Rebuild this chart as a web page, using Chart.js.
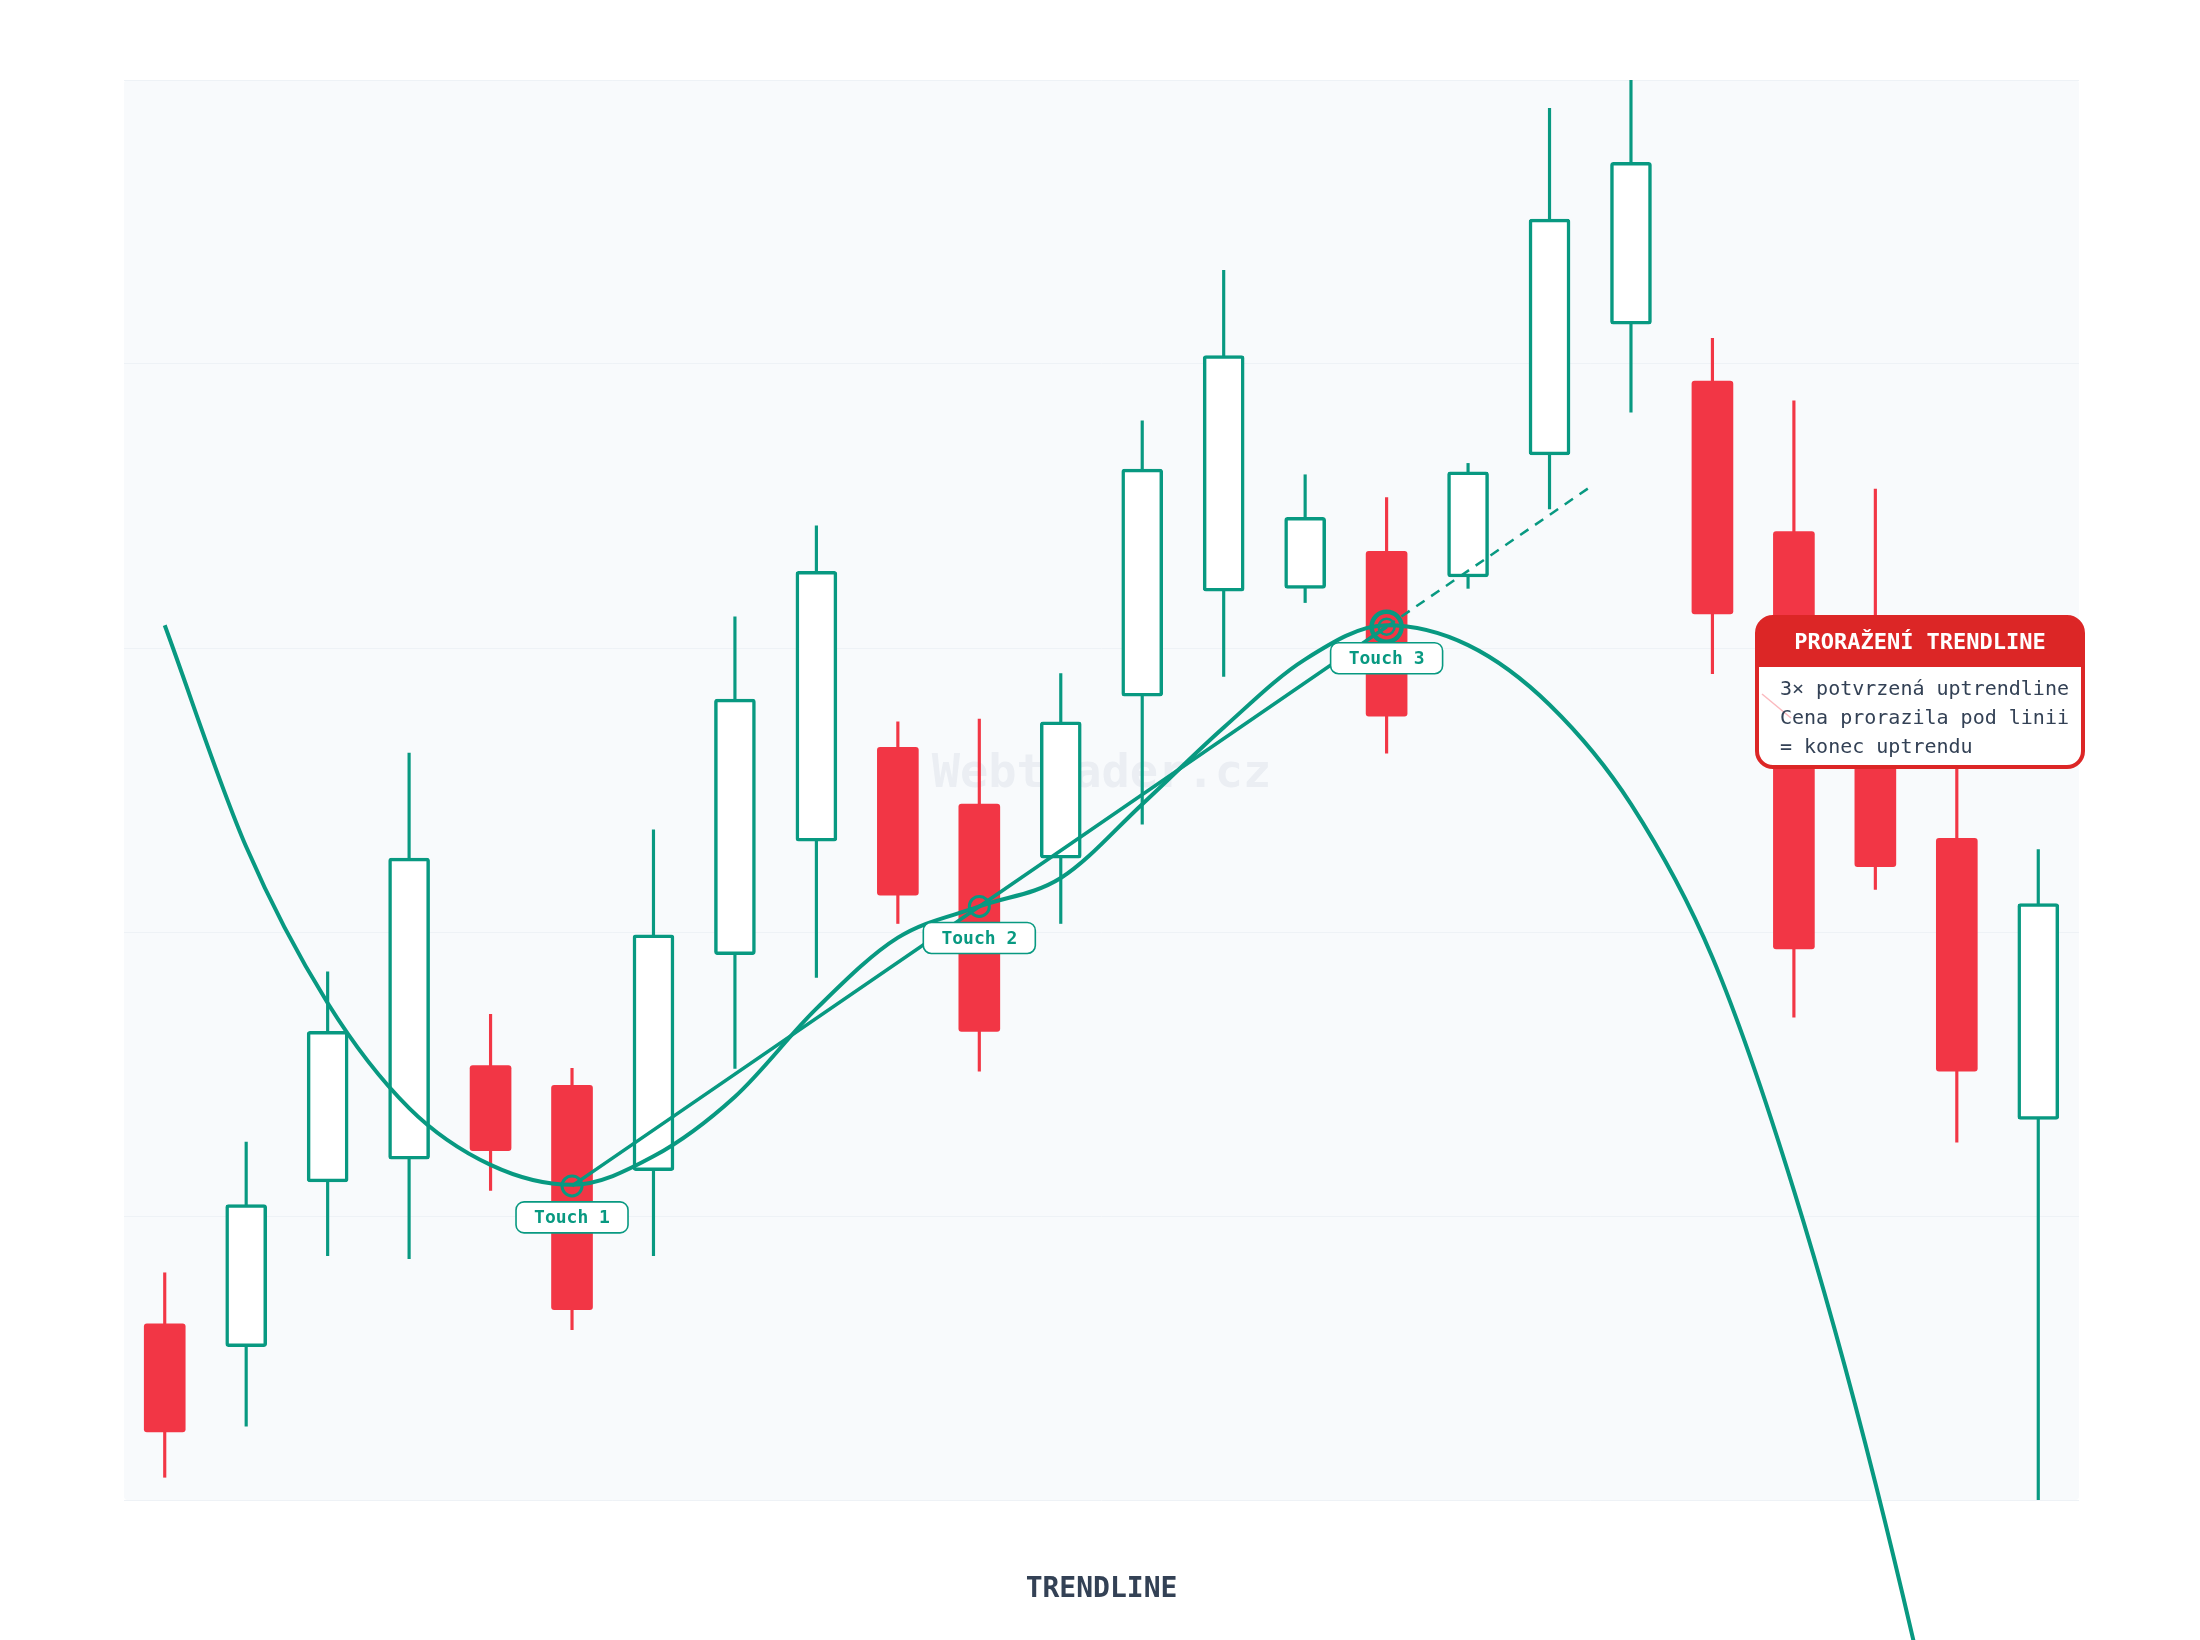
<!DOCTYPE html>
<html>
<head>
<meta charset="utf-8">
<title>Trendline</title>
<script src="https://cdn.jsdelivr.net/npm/chart.js@4.4.1/dist/chart.umd.min.js"></script>
<style>
    html, body { margin: 0; padding: 0; background: #ffffff; }
    #wrap { width: 2200px; height: 1640px; position: relative; }
</style>
</head>
<body>
<div id="wrap"><canvas id="chart"></canvas></div>
<script>
// --- Daten ---

const labels = ["1", "2", "3", "4", "5", "6", "7", "8", "9", "10", "11", "12",
                "13", "14", "15", "16", "17", "18", "19", "20", "21", "22", "23", "24"];

const opens  = [106.2, 105.4, 111.2, 112.0, 115.3, 114.6, 111.6, 119.2, 123.2, 126.5, 124.5, 122.6,
                128.3, 132.0, 132.1, 133.4, 132.5, 136.8, 141.4, 139.4, 134.1, 129.5, 123.3, 113.4];
const closes = [102.4, 110.4, 116.5, 122.6, 112.3, 106.7, 119.9, 128.2, 132.7, 121.3, 116.5, 127.4,
                136.3, 140.3, 134.6, 127.6, 136.2, 145.1, 147.1, 131.2, 119.4, 122.3, 115.1, 121.0];
const highs  = [108.0, 112.6, 118.6, 126.3, 117.1, 115.2, 123.6, 131.1, 134.3, 127.4, 127.5, 129.1,
                138.0, 143.3, 136.1, 135.3, 136.5, 149.0, 151.5, 140.9, 138.7, 135.6, 128.0, 122.9];
const lows   = [100.8, 102.6, 108.6, 108.5, 110.9, 106.0, 108.6, 115.2, 118.4, 120.3, 115.1, 120.3,
                123.8, 129.0, 131.6, 126.3, 132.1, 134.9, 138.3, 129.1, 117.0, 121.5, 112.6, 98.0];

const curveValues = [130.8, 123.0, 117.5, 113.8, 111.8, 111.1, 112.1, 114.2, 117.3, 119.8, 120.9, 121.9,
                     124.5, 127.2, 129.6, 130.8, 130.1, 128.0, 124.5, 119.1, 110.9, 100.6, 88.2, 73.9];

// Beruehrungspunkte der Trendlinie
const touchIndex  = [5, 10, 15];
const touchValues = [111.06, 120.9, 130.75];
const touchLabels = ["Touch 1", "Touch 2", "Touch 3"];

// gestrichelte Verlaengerung
const extIndex  = [15, 17.5];
const extValues = [130.75, 135.67];

const yTicks = [100, 110, 120, 130, 140, 150];

const boxTitle = "PRORAŽENÍ TRENDLINE";
const boxLines = ["3× potvrzená uptrendline", "Cena prorazila pod linii", "= konec uptrendu"];
const watermark = "Webtrader.cz";
const chartTitle = "TRENDLINE";

// --- Stil ---

const GREEN = "#089981";
const RED = "#f23645";
const BOX_RED = "#dc2626";
const MONO = "'DejaVu Sans Mono', monospace";

const isBull = opens.map((o, i) => closes[i] >= o);

// --- Hilfsfunktionen ---

function roundRect(ctx, x, y, w, h, r) {
    ctx.beginPath();
    ctx.moveTo(x + r, y);
    ctx.lineTo(x + w - r, y);
    ctx.arcTo(x + w, y, x + w, y + r, r);
    ctx.lineTo(x + w, y + h - r);
    ctx.arcTo(x + w, y + h, x + w - r, y + h, r);
    ctx.lineTo(x + r, y + h);
    ctx.arcTo(x, y + h, x, y + h - r, r);
    ctx.lineTo(x, y + r);
    ctx.arcTo(x, y, x + r, y, r);
    ctx.closePath();
}

const backgroundPlugin = {
    id: "background",
    beforeDraw(chart) {
        const { ctx, chartArea: a } = chart;
        ctx.save();
        ctx.fillStyle = "#ffffff";
        ctx.fillRect(0, 0, chart.width, chart.height);
        ctx.fillStyle = "#f8fafc";
        roundRect(ctx, a.left, a.top, a.right - a.left, a.bottom - a.top, 4);
        ctx.fill();
        ctx.restore();
    },
    beforeDatasetsDraw(chart) {
        const { ctx, chartArea: a } = chart;
        ctx.save();
        ctx.font = "bold 47px " + MONO;
        ctx.fillStyle = "rgba(148, 163, 184, 0.13)";
        ctx.textAlign = "center";
        ctx.textBaseline = "middle";
        ctx.fillText(watermark, (a.left + a.right) / 2, a.top + (a.bottom - a.top) * 0.489);
        ctx.restore();
    }
};

const annotationPlugin = {
    id: "annotations",
    afterDatasetsDraw(chart) {
        const { ctx, chartArea: a } = chart;
        const xs = chart.scales.xl;
        const ys = chart.scales.y;
        ctx.save();

        // innerer Ring am dritten Punkt
        const p3x = xs.getPixelForValue(touchIndex[2]);
        const p3y = ys.getPixelForValue(touchValues[2]);
        ctx.strokeStyle = GREEN;
        ctx.lineWidth = 2.5;
        ctx.beginPath();
        ctx.arc(p3x, p3y, 8, 0, Math.PI * 2);
        ctx.stroke();

        // Touch-Labels
        ctx.font = "bold 18px " + MONO;
        ctx.textAlign = "center";
        ctx.textBaseline = "middle";
        touchIndex.forEach((idx, i) => {
            const px = xs.getPixelForValue(idx);
            const py = ys.getPixelForValue(touchValues[i]);
            const w = 112, h = 31, top = py + 16;
            roundRect(ctx, px - w / 2, top, w, h, 8);
            ctx.fillStyle = "#ffffff";
            ctx.fill();
            ctx.lineWidth = 1.6;
            ctx.strokeStyle = GREEN;
            ctx.stroke();
            ctx.fillStyle = GREEN;
            ctx.fillText(touchLabels[i], px, top + h / 2 + 1);
        });

        // Box "Prorazeni"
        const bw = 326, bh = 150, hh = 50;
        const bx = a.right + 4 - bw;
        const by = a.top + 537;
        roundRect(ctx, bx, by, bw, bh, 16);
        ctx.fillStyle = "#ffffff";
        ctx.fill();
        ctx.save();
        roundRect(ctx, bx, by, bw, bh, 16);
        ctx.clip();
        ctx.fillStyle = BOX_RED;
        ctx.fillRect(bx, by, bw, hh);
        ctx.restore();

        ctx.strokeStyle = "rgba(242, 54, 69, 0.35)";
        ctx.lineWidth = 1.5;
        ctx.beginPath();
        ctx.moveTo(bx + 5, by + 77);
        ctx.lineTo(bx + 34, by + 101);
        ctx.stroke();

        roundRect(ctx, bx, by, bw, bh, 16);
        ctx.strokeStyle = BOX_RED;
        ctx.lineWidth = 4;
        ctx.stroke();

        ctx.fillStyle = "#ffffff";
        ctx.font = "bold 22px " + MONO;
        ctx.textAlign = "center";
        ctx.fillText(boxTitle, bx + bw / 2, by + 26);

        ctx.fillStyle = "#334155";
        ctx.font = "20px " + MONO;
        ctx.textAlign = "left";
        boxLines.forEach((line, i) => {
            ctx.fillText(line, bx + 23, by + 73 + i * 29);
        });

        ctx.restore();
    }
};

// --- Chart ---

const ctx = document.getElementById("chart").getContext("2d");

const chart = new Chart(ctx, {
    type: "bar",
    data: {
        labels: labels,
        datasets: [
            {
                type: "line",
                label: "Kurve",
                xAxisID: "xl",
                data: curveValues.map((v, i) => ({ x: i, y: v })),
                borderColor: GREEN,
                borderWidth: 4,
                pointRadius: 0,
                cubicInterpolationMode: "monotone",
                clip: false,
                order: 0
            },
            {
                type: "line",
                label: "Trendline",
                xAxisID: "xl",
                data: touchIndex.map((idx, i) => ({ x: idx, y: touchValues[i] })),
                borderColor: GREEN,
                borderWidth: 3.5,
                tension: 0,
                pointRadius: [10, 10, 15],
                pointBorderWidth: [3, 3, 4.5],
                pointBorderColor: GREEN,
                pointBackgroundColor: "rgba(0,0,0,0)",
                order: 0
            },
            {
                type: "line",
                label: "Verlaengerung",
                xAxisID: "xl",
                data: extIndex.map((idx, i) => ({ x: idx, y: extValues[i] })),
                borderColor: GREEN,
                borderWidth: 2.5,
                borderDash: [10, 8],
                pointRadius: 0,
                order: 1
            },
            {
                label: "Koerper",
                data: opens.map((o, i) => [o, closes[i]]),
                backgroundColor: isBull.map(b => b ? "#ffffff" : RED),
                borderColor: isBull.map(b => b ? GREEN : RED),
                borderWidth: isBull.map(b => b ? 3.5 : 0),
                borderRadius: 3,
                borderSkipped: false,
                barThickness: 41,
                grouped: false,
                order: 2
            },
            {
                label: "Dochty",
                data: lows.map((l, i) => [l, highs[i]]),
                backgroundColor: isBull.map(b => b ? GREEN : RED),
                borderWidth: 0,
                barThickness: 2.5,
                grouped: false,
                order: 3
            }
        ]
    },
    options: {
        responsive: true,
        maintainAspectRatio: false,
        animation: false,
        events: [],
        layout: {
            padding: { left: 124, right: 121, top: 80, bottom: 33.2 }
        },
        scales: {
            x: {
                type: "category",
                display: false,
                offset: true,
                grid: { display: false }
            },
            xl: {
                type: "linear",
                display: false,
                offset: false,
                min: -0.5,
                max: 23.5
            },
            y: {
                type: "linear",
                min: yTicks[0],
                max: yTicks[yTicks.length - 1],
                afterBuildTicks: (scale) => {
                    scale.ticks = yTicks.map(v => ({ value: v }));
                },
                afterFit: (scale) => { scale.width = 0; },
                ticks: { display: false },
                grid: { color: "#eef2f6", lineWidth: 1, drawTicks: false },
                border: { display: false }
            }
        },
        plugins: {
            legend: { display: false },
            tooltip: { enabled: false },
            title: {
                display: true,
                text: chartTitle,
                position: "bottom",
                color: "#334155",
                font: { family: MONO, size: 28, weight: "bold" },
                padding: { top: 73.2, bottom: 0 }
            }
        }
    },
    plugins: [backgroundPlugin, annotationPlugin]
});
</script>
</body>
</html>
